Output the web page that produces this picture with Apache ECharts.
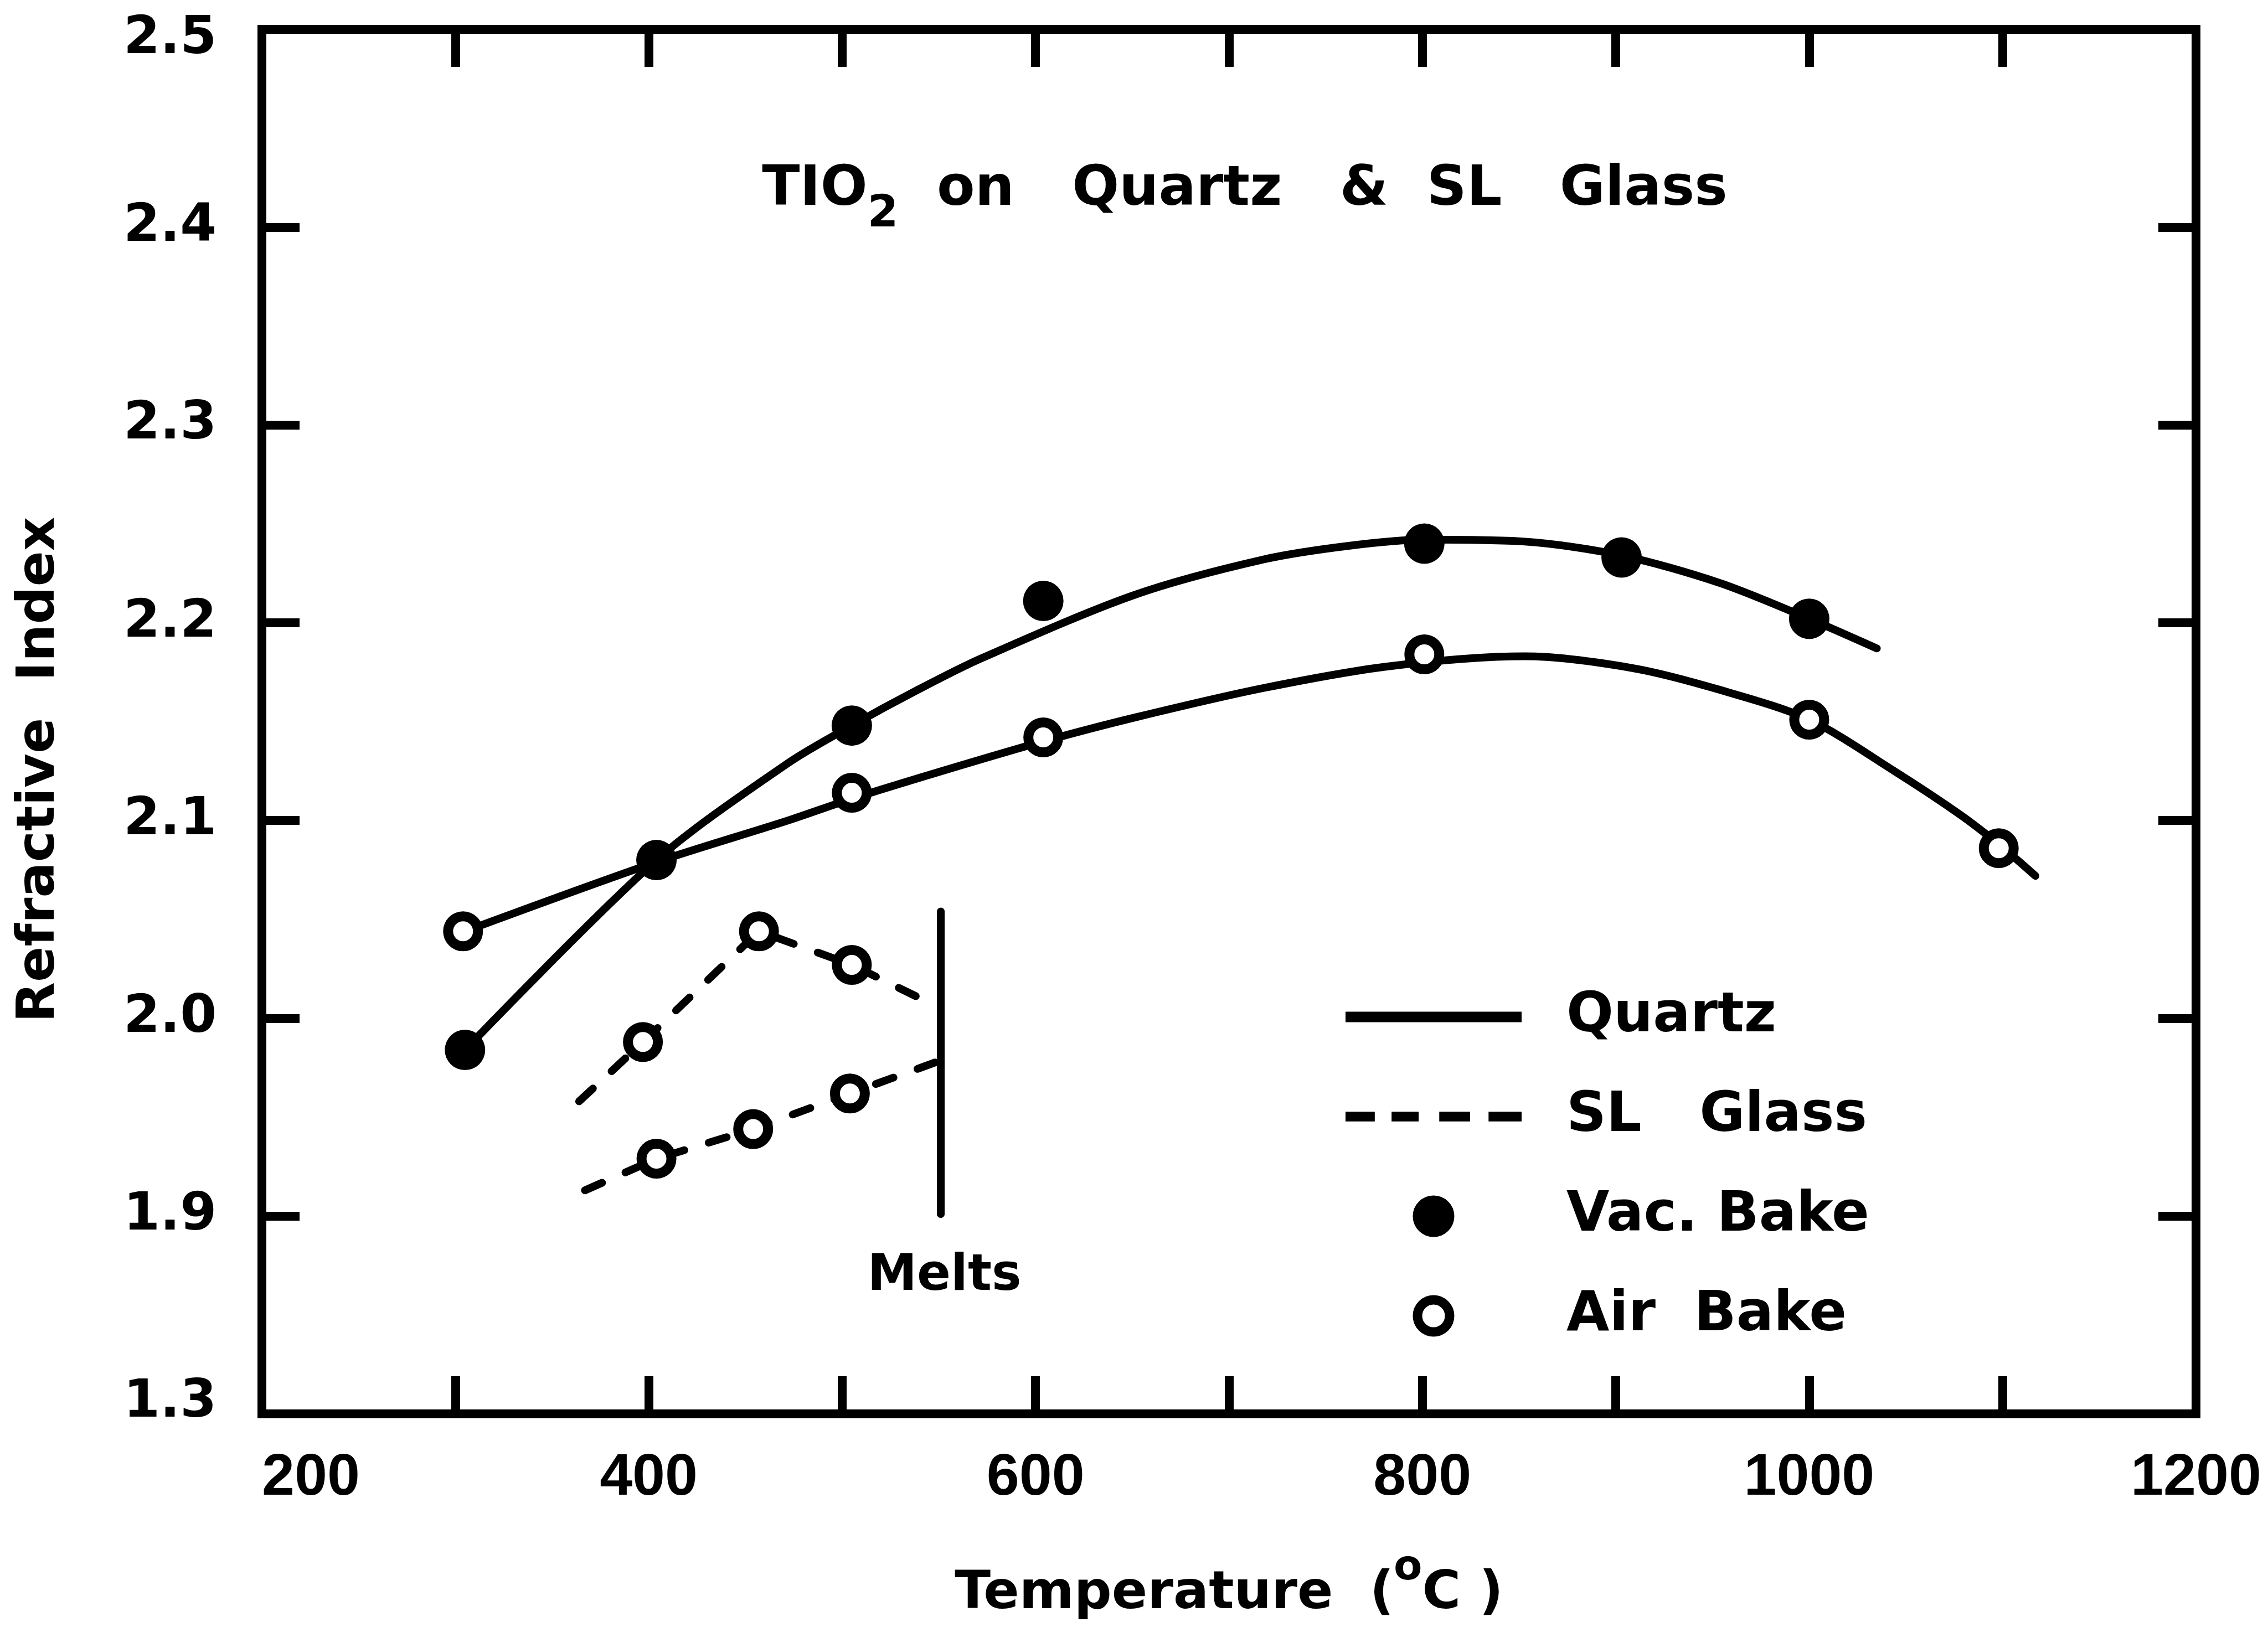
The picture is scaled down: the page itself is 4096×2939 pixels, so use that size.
<!DOCTYPE html>
<html>
<head>
<meta charset="utf-8">
<script src="https://cdn.jsdelivr.net/npm/echarts@6/dist/echarts.min.js"></script>
<style>
html,body{margin:0;padding:0;background:#fff;}
#chart{width:4096px;height:2939px;}
</style>
</head>
<body>
<div id="chart"></div>
<script>
// ---------- data ----------
// Quartz, vacuum bake (filled circles)
const quartzVacTemp  = [305, 404, 505, 604, 801, 903, 1000];
const quartzVacIndex = [1.984, 2.080, 2.148, 2.211, 2.240, 2.233, 2.202];
// Quartz, air bake (open circles)
const quartzAirTemp  = [304, 404, 505, 604, 801, 1000, 1098];
const quartzAirIndex = [2.044, 2.080, 2.114, 2.142, 2.184, 2.151, 2.086];
// SL glass, air bake (open circles), two runs
const glassAirUpperTemp  = [397, 457, 505];
const glassAirUpperIndex = [1.988, 2.044, 2.027];
const glassAirLowerTemp  = [404, 454, 504];
const glassAirLowerIndex = [1.929, 1.944, 1.962];

// Fitted curves
const vacCurveTemp  = [306, 404, 472, 505, 539, 572, 651, 718, 763, 801, 853, 903, 954, 1000, 1035];
const vacCurveIndex = [1.985, 2.080, 2.129, 2.148, 2.166, 2.182, 2.214, 2.232, 2.239, 2.242, 2.241, 2.234, 2.220, 2.202, 2.187];
const airCurveTemp  = [305, 404, 472, 505, 555, 604, 651, 718, 783, 853, 909, 954, 1000, 1044, 1078, 1098, 1117];
const airCurveIndex = [2.044, 2.079, 2.100, 2.111, 2.126, 2.140, 2.152, 2.167, 2.178, 2.183, 2.177, 2.166, 2.151, 2.125, 2.103, 2.088, 2.072];
const glassUpperCurveTemp  = [364, 397, 457, 505, 549];
const glassUpperCurveIndex = [1.958, 1.988, 2.044, 2.027, 2.006];
const glassLowerCurveTemp  = [367, 404, 454, 504, 549];
const glassLowerCurveIndex = [1.913, 1.929, 1.944, 1.962, 1.978];

// "Melts" marker line and its label
const meltTemp  = [551, 551];
const meltIndex = [2.054, 1.901];
const meltLabelTemp  = [553];
const meltLabelIndex = [1.869];

// Tick labels
const xLabelTemps = [200, 400, 600, 800, 1000, 1200];
const xLabelTexts = ['200', '400', '600', '800', '1000', '1200'];
const yLabelValues = [1.8, 1.9, 2.0, 2.1, 2.2, 2.3, 2.4, 2.5];
const yLabelTexts  = ['1.3', '1.9', '2.0', '2.1', '2.2', '2.3', '2.4', '2.5'];

// Legend / text
const legendNames = ['Quartz', 'SL Glass', 'Vac. Bake', 'Air Bake'];
const legendShown = {'Quartz': 'Quartz', 'SL Glass': 'SL   Glass', 'Vac. Bake': 'Vac. Bake', 'Air Bake': 'Air  Bake'};

// ---------- chart ----------
const zip = (a, b) => a.map((v, i) => [v, b[i]]);
const BOLD = 'DejaVu Sans';
const chart = echarts.init(document.getElementById('chart'), null, {renderer: 'canvas'});

const xLabelFmt = v => {
  const i = xLabelTemps.findIndex(t => Math.abs(t - v) < 1e-6);
  return i >= 0 ? xLabelTexts[i] : '';
};
const yLabelFmt = v => {
  const i = yLabelValues.findIndex(t => Math.abs(t - v) < 1e-6);
  if (i < 0) return '';
  if (i === yLabelValues.length - 1) return '{hi|' + yLabelTexts[i] + '}';
  if (i === 0) return '{lo|' + yLabelTexts[i] + '}';
  return yLabelTexts[i];
};

const yLabelFont = {color: '#000', fontFamily: BOLD, fontWeight: 'bold', fontSize: 95};
const axisLineStyle = {color: '#000', width: 16, cap: 'square'};
const tickStyle = {show: true, inside: true, length: 68, lineStyle: {color: '#000', width: 16}};

const curveLine = (name, data, extra) => Object.assign({
  name: name, type: 'line', data: data, symbol: 'none', smooth: 0.3,
  silent: true, z: 2, color: '#000',
  lineStyle: {color: '#000', width: 14, cap: 'round', join: 'round', opacity: 1}
}, extra || {});

const option = {
  animation: false,
  backgroundColor: '#fff',
  title: {
    text: '{n|TIO}{s|2}{n|  on   Quartz   &  SL   Glass}',
    left: 2243, top: 289,
    textAlign: 'center', textVerticalAlign: 'top',
    textStyle: {
      rich: {
        n: {fontFamily: BOLD, fontWeight: 'bold', fontSize: 100, lineHeight: 134, verticalAlign: 'top', color: '#000'},
        s: {fontFamily: BOLD, fontWeight: 'bold', fontSize: 80, lineHeight: 80, verticalAlign: 'bottom', color: '#000'}
      }
    }
  },
  legend: {
    show: true, orient: 'vertical', left: 2430, top: 1787, padding: 0,
    itemWidth: 318, itemHeight: 58, itemGap: 80, selectedMode: false,
    formatter: name => legendShown[name],
    textStyle: {color: '#000', fontFamily: BOLD, fontWeight: 'bold', fontSize: 100, padding: [0, 0, 0, 76]},
    data: [
      {name: legendNames[0], icon: 'path://M0,0h336v20h-336z', itemStyle: {color: '#000', borderWidth: 0, opacity: 1}},
      {name: legendNames[1], icon: 'path://M0,0h54v18h-54z M85,0h50v18h-50z M173,0h57v18h-57z M264,0h61v18h-61z', itemStyle: {color: '#000', borderWidth: 0, opacity: 1}},
      {name: legendNames[2], icon: 'circle', itemStyle: {color: '#000', borderColor: '#000', borderWidth: 17, opacity: 1}},
      {name: legendNames[3], icon: 'circle', itemStyle: {color: '#fff', borderColor: '#000', borderWidth: 17, opacity: 1}}
    ]
  },
  grid: {left: 473, right: 130, top: 53, bottom: 385, containLabel: false, outerBoundsMode: 'none'},
  xAxis: [
    {
      type: 'value', position: 'bottom', min: 200, max: 1200, interval: 100,
      axisLine: {show: true, onZero: false, lineStyle: axisLineStyle},
      axisTick: tickStyle,
      splitLine: {show: false},
      axisLabel: {
        show: true, formatter: xLabelFmt, margin: 64, color: '#000',
        fontFamily: 'Liberation Sans', fontWeight: 'bold', fontSize: 106, lineHeight: 106,
        alignMinLabel: 'left', showMinLabel: true, showMaxLabel: true, hideOverlap: false
      },
      name: '{n|Temperature  (}{s|o}{n|C )}',
      nameLocation: 'middle', nameGap: 242, nameMoveOverlap: false,
      nameTextStyle: {
        rich: {
          n: {fontFamily: BOLD, fontWeight: 'bold', fontSize: 95, lineHeight: 132, verticalAlign: 'bottom', color: '#000'},
          s: {fontFamily: BOLD, fontWeight: 'bold', fontSize: 75, lineHeight: 75, verticalAlign: 'top', color: '#000'}
        }
      }
    },
    {
      type: 'value', position: 'top', min: 200, max: 1200, interval: 100,
      axisLine: {show: true, onZero: false, lineStyle: axisLineStyle},
      axisTick: tickStyle,
      splitLine: {show: false},
      axisLabel: {show: false}
    }
  ],
  yAxis: [
    {
      type: 'value', position: 'left', min: 1.8, max: 2.5, interval: 0.1,
      axisLine: {show: true, onZero: false, lineStyle: axisLineStyle},
      axisTick: tickStyle,
      splitLine: {show: false},
      axisLabel: Object.assign({
        show: true, formatter: yLabelFmt, margin: 250, align: 'left', verticalAlign: 'middle',
        showMinLabel: true, showMaxLabel: true, hideOverlap: false,
        rich: {
          hi: Object.assign({padding: [36, 0, 0, 0]}, yLabelFont),
          lo: Object.assign({padding: [0, 0, 40, 0]}, yLabelFont)
        }
      }, yLabelFont),
      name: 'Refractive  Index', nameLocation: 'middle', nameGap: 353, nameRotate: 90, nameMoveOverlap: false,
      nameTextStyle: {color: '#000', fontFamily: BOLD, fontWeight: 'bold', fontSize: 95, lineHeight: 95, padding: [0, 174, 0, 0]}
    },
    {
      type: 'value', position: 'right', min: 1.8, max: 2.5, interval: 0.1,
      axisLine: {show: true, onZero: false, lineStyle: axisLineStyle},
      axisTick: tickStyle,
      splitLine: {show: false},
      axisLabel: {show: false}
    }
  ],
  series: [
    curveLine('Quartz', zip(vacCurveTemp, vacCurveIndex)),
    curveLine('Quartz', zip(airCurveTemp, airCurveIndex)),
    curveLine('SL Glass', zip(glassUpperCurveTemp, glassUpperCurveIndex),
      {smooth: false, lineStyle: {color: '#000', width: 14, type: [34, 46], cap: 'round', opacity: 1}}),
    curveLine('SL Glass', zip(glassLowerCurveTemp, glassLowerCurveIndex),
      {smooth: false, lineStyle: {color: '#000', width: 14, type: [34, 46], cap: 'round', opacity: 1}}),
    curveLine('Melt line', zip(meltTemp, meltIndex),
      {smooth: false, lineStyle: {color: '#000', width: 14, cap: 'round', opacity: 1}}),
    {
      name: 'Melts', type: 'scatter', silent: true, z: 4,
      data: zip(meltLabelTemp, meltLabelIndex),
      symbolSize: 1, itemStyle: {color: 'rgba(255,255,255,0)', opacity: 1},
      label: {show: true, position: [0, 0], align: 'center', verticalAlign: 'middle',
        formatter: 'Melts', color: '#000', opacity: 1,
        fontFamily: BOLD, fontWeight: 'bold', fontSize: 90}
    },
    {
      name: 'Air Bake', type: 'scatter', silent: true, z: 5,
      data: zip(quartzAirTemp, quartzAirIndex)
        .concat(zip(glassAirUpperTemp, glassAirUpperIndex))
        .concat(zip(glassAirLowerTemp, glassAirLowerIndex)),
      symbol: 'circle', symbolSize: 54,
      itemStyle: {color: '#fff', borderColor: '#000', borderWidth: 18, opacity: 1}
    },
    {
      name: 'Vac. Bake', type: 'scatter', silent: true, z: 6,
      data: zip(quartzVacTemp, quartzVacIndex),
      symbol: 'circle', symbolSize: 73,
      itemStyle: {color: '#000', opacity: 1}
    }
  ]
};
chart.setOption(option);
</script>
</body>
</html>
